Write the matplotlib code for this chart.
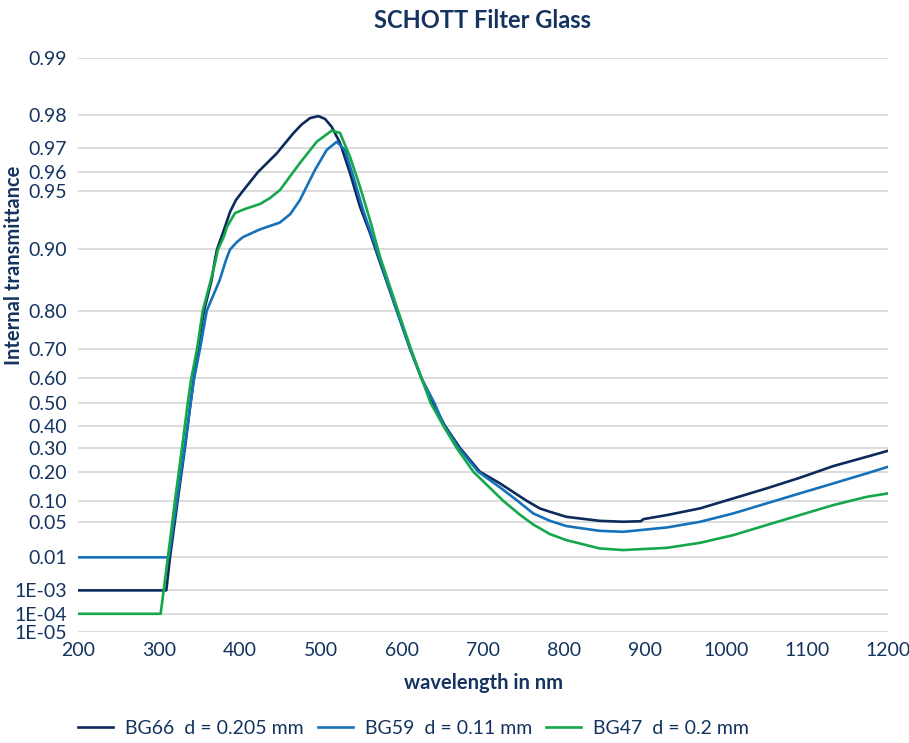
import numpy as np
import matplotlib
matplotlib.use("Agg")
import matplotlib.pyplot as plt

plt.rcParams['font.family'] = ['Lato', 'DejaVu Sans']

# ---- data (wavelength in nm, internal transmittance) ----
bg66_nm = [200, 309, 313.6, 323, 332, 339, 342.7, 348, 355.6, 365, 369, 371.6,
           381.5, 387.7, 395, 403.7, 422, 445.3, 465.8, 476, 486.4, 496.7, 505,
           513.2, 523.5, 535.8, 548.1, 560.5, 570.4, 593.5, 610, 624, 638, 653,
           671.6, 696, 721, 754, 770, 782.7, 803, 844, 873, 895, 898, 927, 968,
           1009, 1050, 1091, 1132.5, 1173.6, 1200]
bg66_tau = [0.001, 0.001, 0.01, 0.10, 0.30, 0.50, 0.593, 0.70, 0.80, 0.858,
            0.887, 0.90, 0.9234, 0.9357, 0.9442, 0.95, 0.96, 0.9681, 0.975,
            0.9775, 0.9792, 0.9797, 0.979, 0.9769, 0.9719, 0.9596, 0.9396,
            0.9175, 0.8913, 0.80, 0.70, 0.60, 0.50, 0.40, 0.30, 0.20, 0.1558,
            0.10, 0.080, 0.0718, 0.0607, 0.0527, 0.051, 0.052, 0.056, 0.0644,
            0.080, 0.107, 0.1385, 0.1763, 0.2225, 0.2615, 0.2877]

bg59_nm = [200, 312, 322, 331.5, 339, 343, 350.6, 359, 375, 382.7, 387.7,
           396.3, 403.7, 424.7, 449, 462, 474, 492.6, 507, 519.4, 529.6, 539.9,
           552, 564.6, 593.5, 610, 624, 640, 652, 670, 694, 721, 742.7, 762,
           782.7, 803, 844, 873, 927, 968, 1009, 1050, 1091, 1132.5, 1173.6,
           1200]
bg59_tau = [0.01, 0.01, 0.10, 0.30, 0.50, 0.593, 0.70, 0.80, 0.858, 0.887,
            0.90, 0.9084, 0.9135, 0.921, 0.927, 0.934, 0.9442, 0.9611, 0.9694,
            0.9723, 0.9694, 0.9578, 0.9371, 0.9104, 0.80, 0.70, 0.60, 0.50,
            0.40, 0.30, 0.20, 0.1419, 0.10, 0.0681, 0.0527, 0.0433, 0.0359,
            0.0345, 0.0411, 0.0509, 0.0681, 0.0929, 0.1222, 0.1558, 0.1931,
            0.2195]

bg47_nm = [200, 302, 311, 319.7, 328.4, 335.5, 339.5, 347, 354, 364, 370,
           372.8, 380, 384, 393.8, 406, 424.7, 437, 449.4, 474, 494.7, 513.2,
           523.5, 535.8, 548.1, 560.5, 572.8, 595, 611, 624, 635.4, 651, 667.5,
           688, 725, 745, 762, 782.7, 803, 844, 873, 927, 968, 1009, 1050, 1091,
           1132.5, 1173.6, 1200]
bg47_tau = [0.0001, 0.0001, 0.01, 0.10, 0.30, 0.50, 0.593, 0.70, 0.80, 0.858,
            0.887, 0.90, 0.9138, 0.9234, 0.9348, 0.9379, 0.9415, 0.9455, 0.9505,
            0.9642, 0.9723, 0.9758, 0.9751, 0.9668, 0.9524, 0.9292, 0.8913,
            0.80, 0.70, 0.60, 0.50, 0.40, 0.30, 0.20, 0.10, 0.066, 0.046,
            0.0313, 0.024, 0.0161, 0.0148, 0.0166, 0.0212, 0.030, 0.045, 0.0644,
            0.0884, 0.1117, 0.1222]

y_ticks = [0.99, 0.98, 0.97, 0.96, 0.95, 0.90, 0.80, 0.70, 0.60, 0.50, 0.40,
           0.30, 0.20, 0.10, 0.05, 0.01, 1e-3, 1e-4, 1e-5]
y_labels = ['0.99', '0.98', '0.97', '0.96', '0.95', '0.90', '0.80', '0.70',
            '0.60', '0.50', '0.40', '0.30', '0.20', '0.10', '0.05', '0.01',
            '1E-03', '1E-04', '1E-05']
x_ticks = list(range(200, 1201, 100))

c_text = '#14335f'
c_navy = '#0c2a5b'
c_blue = '#1572ba'
c_green = '#14a84b'


# diabatic scale: axis linear in -log10(-ln tau)
def fwd(t):
    t = np.clip(np.asarray(t, dtype=float), 1e-300, 1 - 1e-12)
    return -np.log10(-np.log(t))


def inv(u):
    return np.exp(-10.0 ** (-np.asarray(u, dtype=float)))


fig = plt.figure(figsize=(9.09, 7.43), dpi=100)
ax = fig.add_axes([78 / 909, 1 - 632 / 743, 810 / 909, 574 / 743])
ax.set_yscale('function', functions=(fwd, inv))

ax.plot(bg66_nm, bg66_tau, color=c_navy, lw=1.9, label='BG66  d = 0.205 mm', zorder=3)
ax.plot(bg59_nm, bg59_tau, color=c_blue, lw=1.9, label='BG59  d = 0.11 mm', zorder=3)
ax.plot(bg47_nm, bg47_tau, color=c_green, lw=1.9, label='BG47  d = 0.2 mm', zorder=3)

ax.set_xlim(200, 1200)
ax.set_ylim(1e-5, 0.99)
ax.set_yticks(y_ticks)
ax.set_yticklabels(y_labels)
ax.set_xticks(x_ticks)
ax.minorticks_off()
ax.tick_params(axis='both', length=0, labelsize=14, colors=c_text)
ax.tick_params(axis='y', pad=8)
ax.tick_params(axis='x', pad=7)
ax.grid(axis='y', color='#d9d9d9', lw=1.3)
ax.set_axisbelow(True)
for s in ax.spines.values():
    s.set_visible(False)

fig.text(483 / 909, 1 - 21 / 743, 'SCHOTT Filter Glass', ha='center', va='center',
         fontsize=17, fontweight='bold', color=c_text)
fig.text(14 / 909, 1 - 265 / 743, 'Internal transmittance', ha='center', va='center',
         rotation=90, fontsize=14.5, fontweight='bold', color=c_text)
fig.text(483 / 909, 1 - 683 / 743, 'wavelength in nm', ha='center', va='center',
         fontsize=14.5, fontweight='bold', color=c_text)

leg = fig.legend(loc='center left', bbox_to_anchor=(78 / 909, 1 - 728 / 743), ncol=3,
                 frameon=False, fontsize=14, borderpad=0, borderaxespad=0,
                 handlelength=1.8, handletextpad=0.6, columnspacing=0.75)
for t in leg.get_texts():
    t.set_color(c_text)

fig.savefig('out.png', dpi=100)
